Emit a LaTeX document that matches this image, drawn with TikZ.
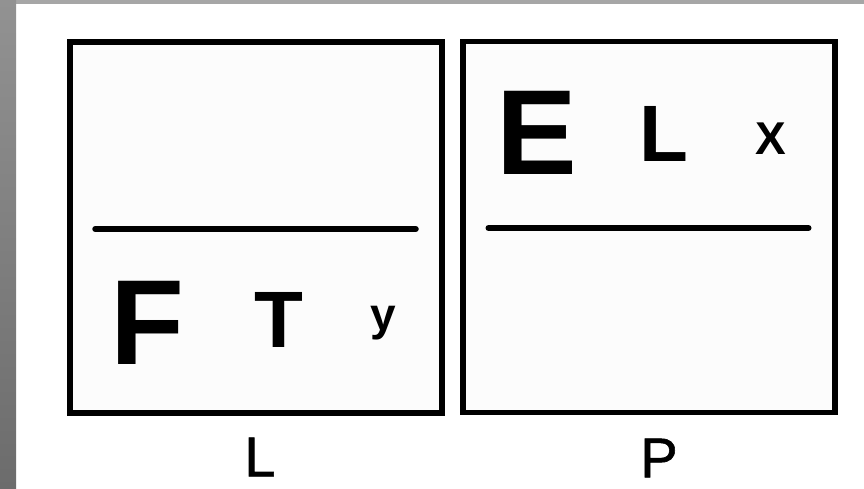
\documentclass[tikz,border=0pt]{standalone}
\usepackage{fontspec}
\setmainfont{Liberation Sans}
\newfontfamily\capfont{Liberation Sans}[FakeBold=1]
\usepackage{tikz}
\usetikzlibrary{calc}
\definecolor{bandtop}{RGB}{166,166,166}
\definecolor{bandhi}{RGB}{146,146,146}
\definecolor{bandlo}{RGB}{108,108,108}
\newcommand{\bigsz}{\fontsize{121}{121}\selectfont\bfseries}
\newcommand{\midsz}{\fontsize{80}{80}\selectfont\bfseries}
\newcommand{\smallsz}{\fontsize{46}{46}\selectfont\bfseries}
\tikzset{
  panel/.style={rectangle, draw=black, line width=5.5pt, fill=white!99!black,
    minimum width=372pt, minimum height=371pt, inner sep=0pt},
  divider/.style={line width=6pt, line cap=round, color=black},
  glyph/.style={inner sep=0pt, anchor=center, text=black},
  caption/.style={inner sep=0pt, anchor=center, font=\capfont\fontsize{56}{56}\selectfont}
}
\begin{document}
\begin{tikzpicture}[x=1pt, y=-1pt]
  \useasboundingbox (0,0) rectangle (864,488);
  % frame
  \fill[white] (0,0) rectangle (864,488);
  \fill[bandtop] (0,0) rectangle (864,4);
  \shade[top color=bandhi, bottom color=bandlo] (0,0) rectangle (16,488);

  % panels
  \node[panel] (lpanel) at (256,227.5) {};
  \node[panel] (ppanel) at (648.75,227) {};
  \draw[divider] ($(lpanel.west)+(28,1.5)$) -- ($(lpanel.east)+(-29,1.5)$);
  \draw[divider] ($(ppanel.west)+(28.5,1)$) -- ($(ppanel.east)+(-29,1)$);

  % letters
  \node[glyph, font=\bigsz] (f) at (147,322.5) {F};
  \node[glyph, font=\midsz] (t) at (278.5,319.5) {T};
  \node[glyph, font=\smallsz] (y) at (383.5,323.5) {y};
  \node[glyph, font=\bigsz] (e) at (536.5,132.5) {E};
  \node[glyph, font=\midsz] (l) at (663.5,134) {L};
  \node[glyph, font=\smallsz] (x) at (770.5,138.5) {X};

  % captions
  \node[caption] (lcap) at (260,457) {L};
  \node[caption] (pcap) at (659,458) {P};
\end{tikzpicture}
\end{document}
